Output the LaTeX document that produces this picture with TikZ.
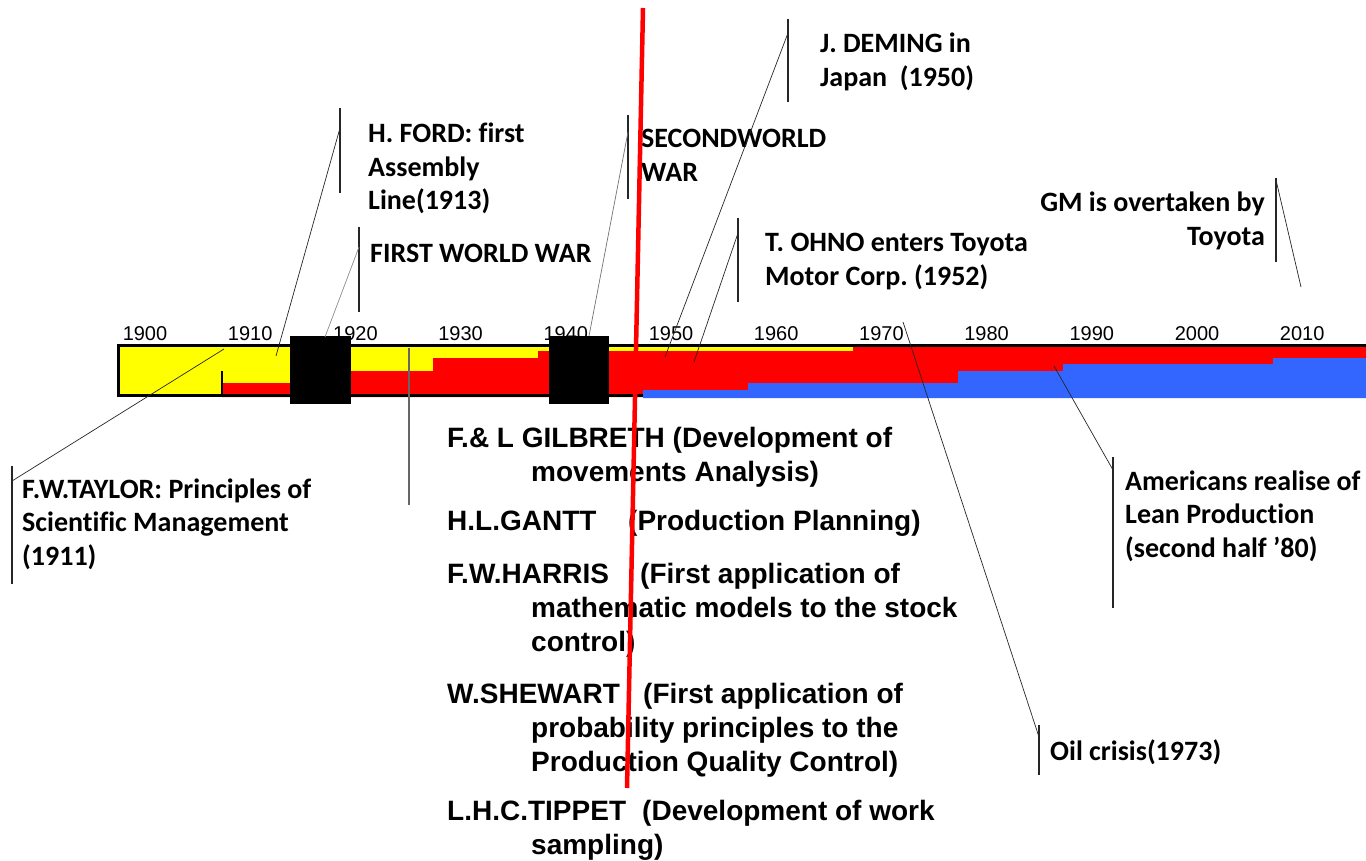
\documentclass[tikz,border=0pt]{standalone}
\usepackage{fontspec}
\setmainfont[Ligatures=NoCommon]{Liberation Sans}
\newfontfamily\calfont[Ligatures=NoCommon]{Carlito}
\usepackage{tikz}
\usetikzlibrary{positioning}
\definecolor{craftyellow}{RGB}{255,255,0}
\definecolor{massred}{RGB}{255,0,0}
\definecolor{leanblue}{RGB}{51,102,255}
\newcommand{\who}[2]{\makebox[#1][l]{#2}}
\frenchspacing

\begin{document}
\begin{tikzpicture}[x=1pt, y=-1pt,
    yearlbl/.style={anchor=base, inner sep=0pt,
                    font=\fontsize{20}{24}\selectfont},
    evt/.style={anchor=base west, inner sep=0pt, align=left,
                font=\calfont\bfseries\fontsize{28}{33.5}\selectfont},
    pioneer/.style={anchor=base west, inner sep=0pt, align=left,
                    font=\bfseries\fontsize{28}{34}\selectfont},
    lead/.style={draw=black!85, line width=0.7pt},
    stem/.style={draw=black!85, line width=1.3pt},
    war/.style={fill=black}
  ]
  \useasboundingbox[fill=white] (0,0) rectangle (1366,861);

  % the production-paradigm bar
  \fill[craftyellow] (117,345) rectangle (1366,397);
  \fill[massred] (222,397) -- (222,383) -- (350,383) -- (350,371)
    -- (433,371) -- (433,358) -- (538,358) -- (538,351) -- (853,351)
    -- (853,346) -- (1366,346) -- (1366,397) -- cycle;
  \fill[leanblue] (643,398) -- (643,390) -- (748,390) -- (748,383)
    -- (958,383) -- (958,371) -- (1063,371) -- (1063,364) -- (1273,364)
    -- (1273,358) -- (1366,358) -- (1366,398) -- cycle;
  \draw[line width=3pt] (1366,345.5) -- (118.5,345.5) -- (118.5,395.5) -- (643,395.5);
  \draw[line width=2.5pt] (222,371) -- (222,396);

  % years
  \foreach \yr in {1900,1910,...,2010}
    \node[yearlbl] (y\yr) at ({145+10.52*(\yr-1900)},340) {\yr};

  % the two wars
  \node[war, inner sep=0pt, minimum width=61pt, minimum height=68pt] (ww1) at (320.5,370) {};
  \node[war, inner sep=0pt, minimum width=60pt, minimum height=68pt] (ww2) at (579,370) {};

  % events above the bar (anchored on the last line)
  \node[evt] (ford) at (368,210) {H. FORD: first\\Assembly\\Line(1913)};
  \node[evt] (firstwar) at (370,262) {FIRST WORLD WAR};
  \node[evt] (secondwar) at (641,181.5) {SECONDWORLD\\WAR};
  \node[evt] (deming) at (820,86.5) {J. DEMING in\\Japan~~(1950)};
  \node[evt] (ohno) at (765,285.5) {T. OHNO enters Toyota\\Motor Corp. (1952)};
  \node[evt, anchor=base east, align=right] (gm) at (1265,245.5)
    {GM is overtaken by\\Toyota};

  % events below the bar
  \node[evt] (taylor) at (22,565)
    {F.W.TAYLOR: Principles of\\Scientific Management\\(1911)};
  \node[evt] (americans) at (1125,557)
    {Americans realise of\\Lean Production\\(second half ’80)};
  \node[evt] (oil) at (1050,760) {Oil crisis(1973)};

  % pioneers of the scientific management
  \node[pioneer] (gilbreth) at (447,481)
    {F.\& L GILBRETH (Development of\\\hspace*{84pt}movements Analysis)};
  \node[pioneer] (gantt) at (447,530)
    {\who{181pt}{H.L.GANTT}(Production Planning)};
  \node[pioneer] (harris) at (447,651)
    {\who{193pt}{F.W.HARRIS}(First application of\\
     \hspace*{84pt}mathematic models to the stock\\\hspace*{84pt}control)};
  \node[pioneer] (shewart) at (447,771)
    {\who{196pt}{W.SHEWART}(First application of\\
     \hspace*{84pt}probability principles to the\\
     \hspace*{84pt}Production Quality Control)};
  \node[pioneer] (tippet) at (447,854)
    {\who{195pt}{L.H.C.TIPPET}(Development of work\\\hspace*{84pt}sampling)};

  % callout points
  \coordinate (taylortip) at (224,349);
  \coordinate (taylorknee) at (12,481);
  \coordinate (fordtip) at (276,356);
  \coordinate (fordknee) at (340,128);
  \coordinate (ww1tip) at (325,337);
  \coordinate (ww1knee) at (359,247);
  \coordinate (ww2tip) at (589,336);
  \coordinate (ww2knee) at (628,132);
  \coordinate (demingtip) at (665,357);
  \coordinate (demingknee) at (788,33);
  \coordinate (ohnotip) at (694,362);
  \coordinate (ohnoknee) at (738,233);
  \coordinate (gmtip) at (1301,287);
  \coordinate (gmknee) at (1276,180);
  \coordinate (oiltip) at (903,322);
  \coordinate (oilknee) at (1039,737);
  \coordinate (americanstip) at (1054,366);
  \coordinate (americansknee) at (1113,470);
  \coordinate (gilbrethtip) at (409,348);

  % callouts
  \draw[stem] (12,466) -- (12,584);
  \draw[lead] (taylorknee) -- (taylortip);
  \draw[stem] (340,108) -- (340,193);
  \draw[lead] (fordknee) -- (fordtip);
  \draw[stem] (359,227) -- (359,312);
  \draw[lead, draw=black!45] (ww1knee) -- (ww1tip);
  \draw[stem] (628,115) -- (628,199);
  \draw[lead, draw=black!55] (ww2knee) -- (ww2tip);
  \draw[stem] (788,19) -- (788,102);
  \draw[lead] (demingknee) -- (demingtip);
  \draw[stem] (738,218) -- (738,302);
  \draw[lead] (ohnoknee) -- (ohnotip);
  \draw[stem] (1276,178) -- (1276,262);
  \draw[lead] (gmknee) -- (gmtip);
  \draw[stem] (1039,725) -- (1039,775);
  \draw[lead] (oilknee) -- (oiltip);
  \draw[stem] (1113,457) -- (1113,608);
  \draw[lead] (americansknee) -- (americanstip);
  \draw[stem, draw=black!60] (gilbrethtip) -- (409,505);

  % turning point
  \coordinate (cuttop) at (643,8);
  \coordinate (cutbot) at (627,788);
  \draw[massred, line width=4.5pt] (cuttop) -- (cutbot);
\end{tikzpicture}
\end{document}
